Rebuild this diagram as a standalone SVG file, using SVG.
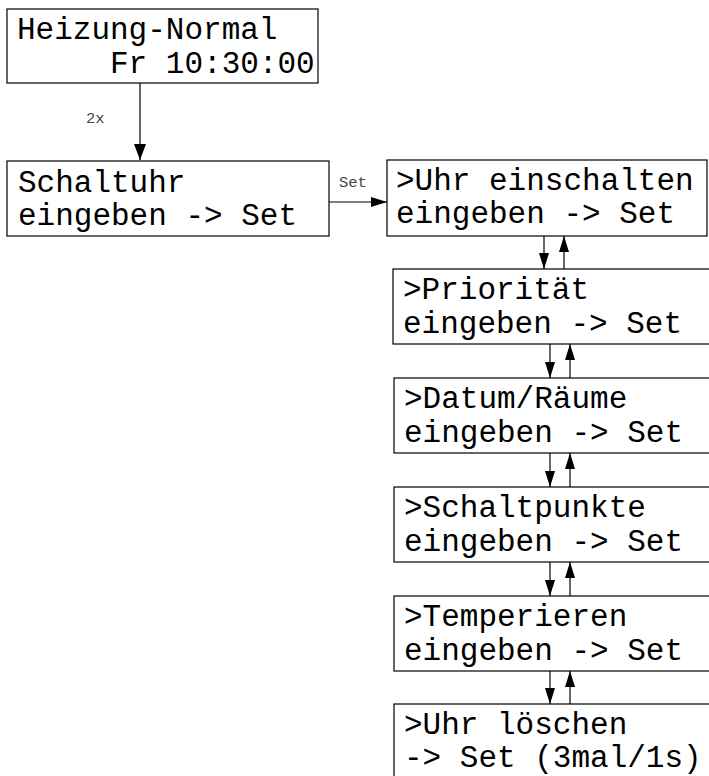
<svg xmlns="http://www.w3.org/2000/svg" width="709" height="776" viewBox="0 0 709 776">
<style>
.box{fill:#fff;stroke:#000;stroke-width:1.2}
.t{font-family:"Liberation Mono","Courier New",monospace;font-size:31px;fill:#000;white-space:pre}
.lbl{font-family:"Liberation Mono","Courier New",monospace;font-size:15.5px;fill:#444;white-space:pre}
.ln{stroke:#000;stroke-width:1.2;fill:none}
</style>
<defs>
<marker id="ah" viewBox="0 0 16 12" refX="16" refY="6" markerWidth="16" markerHeight="12" markerUnits="userSpaceOnUse" orient="auto">
<path d="M0,0 L16,6 L0,12 Z" fill="#000"/>
</marker>
<marker id="ahs" viewBox="0 0 16 10" refX="16" refY="5" markerWidth="16" markerHeight="10" markerUnits="userSpaceOnUse" orient="auto">
<path d="M0,0 L16,5 L0,10 Z" fill="#000"/>
</marker>
</defs>
<rect width="709" height="776" fill="#fff"/>
<g id="connectors">
<line class="ln" x1="140" y1="83" x2="140" y2="160" marker-end="url(#ah)"/>
<text class="lbl" x="86" y="123">2x</text>
<line class="ln" x1="329" y1="202" x2="387" y2="202" marker-end="url(#ahs)"/>
<text class="lbl" x="339" y="187">Set</text>
<line class="ln" x1="544" y1="236" x2="544" y2="269" marker-end="url(#ahs)"/>
<line class="ln" x1="564" y1="269" x2="564" y2="236" marker-end="url(#ahs)"/>
<line class="ln" x1="550" y1="344" x2="550" y2="378" marker-end="url(#ahs)"/>
<line class="ln" x1="570" y1="378" x2="570" y2="344" marker-end="url(#ahs)"/>
<line class="ln" x1="550" y1="453" x2="550" y2="487" marker-end="url(#ahs)"/>
<line class="ln" x1="570" y1="487" x2="570" y2="453" marker-end="url(#ahs)"/>
<line class="ln" x1="550" y1="562" x2="550" y2="596" marker-end="url(#ahs)"/>
<line class="ln" x1="570" y1="596" x2="570" y2="562" marker-end="url(#ahs)"/>
<line class="ln" x1="550" y1="671" x2="550" y2="704" marker-end="url(#ahs)"/>
<line class="ln" x1="570" y1="704" x2="570" y2="671" marker-end="url(#ahs)"/>
</g>
<g id="n1"><rect class="box" x="7" y="9" width="311" height="74"/>
<text class="t" x="17" y="39">Heizung-Normal</text><text class="t" x="17" y="73">     Fr 10:30:00</text></g>
<g id="n2"><rect class="box" x="7" y="161" width="322" height="75"/>
<text class="t" x="18" y="192">Schaltuhr</text><text class="t" x="18" y="225">eingeben -&gt; Set</text></g>
<g id="n3"><rect class="box" x="387" y="160" width="320" height="76"/>
<text class="t" x="396" y="190">&gt;Uhr einschalten</text><text class="t" x="396" y="223">eingeben -&gt; Set</text></g>
<g id="n4"><rect class="box" x="393" y="269" width="330" height="75"/>
<text class="t" x="403" y="299">&gt;Priorität</text><text class="t" x="403" y="333">eingeben -&gt; Set</text></g>
<g id="n5"><rect class="box" x="394" y="378" width="330" height="75"/>
<text class="t" x="404" y="408">&gt;Datum/Räume</text><text class="t" x="404" y="442">eingeben -&gt; Set</text></g>
<g id="n6"><rect class="box" x="394" y="487" width="330" height="75"/>
<text class="t" x="404" y="517">&gt;Schaltpunkte</text><text class="t" x="404" y="551">eingeben -&gt; Set</text></g>
<g id="n7"><rect class="box" x="394" y="596" width="330" height="75"/>
<text class="t" x="404" y="626">&gt;Temperieren</text><text class="t" x="404" y="660">eingeben -&gt; Set</text></g>
<g id="n8"><rect class="box" x="394" y="704" width="330" height="90"/>
<text class="t" x="404" y="734">&gt;Uhr löschen</text><text class="t" x="404" y="767">-&gt; Set (3mal/1s)</text></g>
</svg>
